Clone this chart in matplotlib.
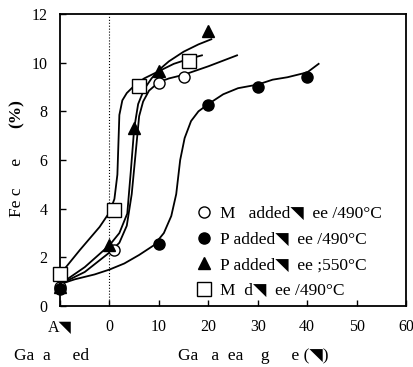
import numpy as np
import matplotlib.pyplot as plt

plt.rcParams['font.family'] = ['Liberation Serif', 'DejaVu Sans']

# measured points
m_open_x = [-10, 1, 10, 15]
m_open_y = [0.8, 2.3, 9.15, 9.4]
p490_x = [-10, 10, 20, 30, 40]
p490_y = [0.7, 2.55, 8.25, 9.0, 9.4]
p550_x = [-10, 0, 5, 10, 20]
p550_y = [0.8, 2.5, 7.3, 9.65, 11.3]
msq_x = [-10, 1, 6, 16]
msq_y = [1.3, 3.95, 9.05, 10.05]

# hand-drawn trend curves
c_open_x = [-10, -5, 0, 2, 3.5, 4.5, 5.3, 6.0, 6.8, 8, 10, 12, 15, 20, 25.8]
c_open_y = [0.9, 1.4, 2.2, 2.6, 3.3, 4.6, 6.3, 7.8, 8.4, 8.85, 9.2, 9.35, 9.5, 9.85, 10.3]
c_p490_x = [-10, -7, -3, 0, 3, 6, 9, 11, 12.5, 13.5, 14.3, 15.2, 16.5, 18, 20, 23, 26, 30, 33, 36, 40, 42.3]
c_p490_y = [0.9, 1.1, 1.3, 1.5, 1.75, 2.1, 2.5, 3.0, 3.7, 4.6, 6.0, 6.9, 7.6, 8.0, 8.3, 8.7, 8.95, 9.1, 9.3, 9.4, 9.6, 9.95]
c_p550_x = [-10, -5, 0, 2, 3.6, 4.3, 5.0, 5.8, 7, 8.5, 10, 12, 15, 18, 20.6]
c_p550_y = [0.9, 1.6, 2.5, 3.0, 3.8, 5.5, 7.3, 8.3, 8.9, 9.35, 9.7, 10.05, 10.45, 10.75, 10.96]
c_msq_x = [-10, -6, -2, 0, 1.0, 1.6, 2.0, 2.6, 3.5, 5, 7, 10, 13, 16, 18.7]
c_msq_y = [1.3, 2.3, 3.25, 3.85, 4.4, 5.4, 7.85, 8.45, 8.75, 9.05, 9.35, 9.65, 9.95, 10.15, 10.3]

labels = ['M   added\u25e5  ee /490°C', 'P added\u25e5  ee /490°C',
          'P added\u25e5  ee ;550°C', 'M  d\u25e5  ee /490°C']
xticks = [-10, 0, 10, 20, 30, 40, 50, 60]
xticklabels = ['A\u25e5', '0', '10', '20', '30', '40', '50', '60']

fig = plt.figure(figsize=(4.14, 3.67), dpi=100)
ax = fig.add_axes([0.145, 0.166, 0.836, 0.796])

for cx, cy in [(c_open_x, c_open_y), (c_p490_x, c_p490_y), (c_p550_x, c_p550_y), (c_msq_x, c_msq_y)]:
    ax.plot(cx, cy, color='black', lw=1.3, zorder=2)

ax.axvline(0, color='black', lw=0.8, ls=':', zorder=1)

ax.plot(m_open_x, m_open_y, 'o', ms=8, mfc='white', mec='black', mew=1, label=labels[0], zorder=3, clip_on=False)
ax.plot(p490_x, p490_y, 'o', ms=8, mfc='black', mec='black', label=labels[1], zorder=3, clip_on=False)
ax.plot(p550_x, p550_y, '^', ms=8, mfc='black', mec='black', label=labels[2], zorder=3, clip_on=False)
ax.plot(msq_x, msq_y, 's', ms=10, mfc='white', mec='black', mew=1, label=labels[3], zorder=3, clip_on=False)

ax.set_xlim(-10, 60)
ax.set_ylim(0, 12)
ax.set_xticks(xticks)
ax.set_xticklabels(xticklabels)
ax.set_yticks(range(0, 13, 2))
ax.tick_params(direction='in', labelsize=11.5, length=4, width=1)
ax.tick_params(axis='x', pad=9)
ax.tick_params(axis='y', pad=9)
for s in ax.spines.values():
    s.set_linewidth(1.3)

ax.legend(loc='lower left', bbox_to_anchor=(0.34, -0.03), frameon=False,
          fontsize=12.5, handletextpad=0.35, labelspacing=0.55, handlelength=1.2)

fig.text(0.035, 0.02, 'Ga  a     ed', fontsize=12.5)
fig.text(0.43, 0.02, 'Ga   a  ea    g     e (\u25e5)', fontsize=12.5)
fig.text(0.04, 0.49, 'Fe c     e', fontsize=12.5, rotation=90, va='center', ha='center')
fig.text(0.04, 0.69, '(%)', fontsize=12.5, rotation=90, va='center', ha='center', fontweight='bold')

fig.savefig('out.png', dpi=100)
